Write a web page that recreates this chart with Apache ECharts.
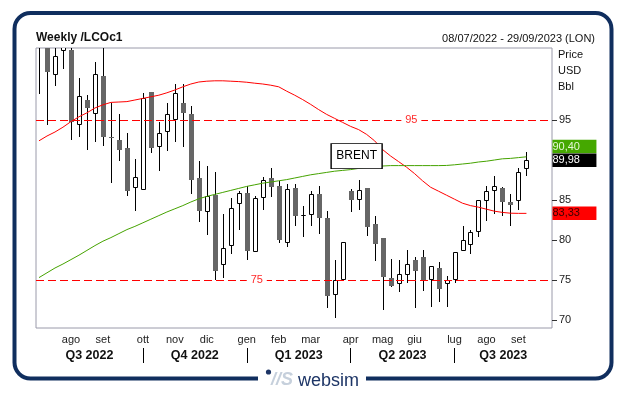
<!DOCTYPE html>
<html>
<head>
<meta charset="utf-8">
<script src="https://cdn.jsdelivr.net/npm/echarts@6/dist/echarts.min.js"></script>
<style>
html,body{margin:0;padding:0;background:#fff;}
#chart{width:626px;height:393px;}
</style>
</head>
<body>
<div id="chart"></div>
<script>
// ---- DATA (weekly Brent, LCOc1) ----
const weeks = [
 '2022-07-08','2022-07-15','2022-07-22','2022-07-29','2022-08-05','2022-08-12','2022-08-19','2022-08-26',
 '2022-09-02','2022-09-09','2022-09-16','2022-09-23','2022-09-30','2022-10-07','2022-10-14','2022-10-21',
 '2022-10-28','2022-11-04','2022-11-11','2022-11-18','2022-11-25','2022-12-02','2022-12-09','2022-12-16',
 '2022-12-23','2022-12-30','2023-01-06','2023-01-13','2023-01-20','2023-01-27','2023-02-03','2023-02-10',
 '2023-02-17','2023-02-24','2023-03-03','2023-03-10','2023-03-17','2023-03-24','2023-03-31','2023-04-07',
 '2023-04-14','2023-04-21','2023-04-28','2023-05-05','2023-05-12','2023-05-19','2023-05-26','2023-06-02',
 '2023-06-09','2023-06-16','2023-06-23','2023-06-30','2023-07-07','2023-07-14','2023-07-21','2023-07-28',
 '2023-08-04','2023-08-11','2023-08-18','2023-08-25','2023-09-01','2023-09-08'
];
const opens  = [111.0,107.0,100.6,103.6,103.7,94.4,97.55,95.7,100.55,92.9,92.45,91.45,86.5,86.3,98.5,91.65,
                93.5,95.05,97.15,95.8,87.7,83.5,85.6,76.85,79.25,84.5,85.9,78.5,85.3,87.7,86.8,79.65,
                86.5,83.05,83.1,85.8,82.7,73.1,75.0,86.1,85.0,86.45,81.95,80.2,75.25,74.45,75.65,77.45,
                77.85,74.95,76.5,74.5,75.05,78.6,79.35,81.0,84.85,86.1,86.5,84.8,84.9,88.9];
const closes = [107.0,101.0,103.0,110.0,94.8,98.0,96.5,100.8,92.85,92.7,91.25,86.1,87.9,97.8,91.5,93.4,
                95.7,98.4,95.9,87.5,83.6,85.5,76.1,79.0,83.95,85.9,78.6,85.3,87.55,86.65,80.0,86.4,
                83.0,83.15,85.8,82.75,73.0,75.05,79.75,85.05,86.3,81.6,79.45,75.35,74.25,75.7,77.0,76.1,
                74.95,76.75,73.9,74.95,78.5,79.95,81.0,85.0,86.15,86.8,84.75,84.35,88.5,89.98];
const lows   = [98.3,94.35,99.2,101.35,92.55,92.9,91.3,92.2,91.7,87.15,89.85,85.5,83.6,86.3,90.9,88.6,
                91.1,92.25,91.6,85.75,82.25,80.6,75.05,75.2,78.25,81.2,77.55,78.5,83.8,85.35,79.65,79.15,
                81.75,80.35,81.75,80.75,71.5,70.25,74.85,83.5,83.75,80.5,77.35,71.3,74.1,73.5,74.65,71.5,
                73.6,71.65,72.25,71.65,74.65,78.6,78.2,80.4,82.35,83.2,83.0,81.8,83.75,88.0];
const highs  = [112.0,108.0,105.0,110.5,104.6,100.2,98.1,102.3,105.5,97.15,95.7,93.4,90.1,98.4,98.5,94.7,
                97.15,99.45,99.45,96.8,89.85,89.3,88.5,83.2,85.25,86.1,86.8,85.5,87.85,89.0,87.35,86.95,
                86.95,84.3,86.1,86.75,83.6,77.55,79.8,86.4,87.45,86.5,83.05,80.3,77.65,77.55,78.7,77.85,
                78.8,76.8,77.25,75.55,78.55,81.8,81.3,85.05,86.75,88.05,86.65,85.8,88.95,91.0];
const maRed   = [92.4,93.0,93.5,94.1,94.8,95.4,95.9,96.5,96.9,97.2,97.25,97.3,97.5,97.7,97.9,98.1,
                 98.4,98.75,99.15,99.5,99.75,99.85,99.9,99.9,99.85,99.8,99.72,99.6,99.5,99.35,99.15,98.6,
                 98.1,97.55,96.95,96.3,95.7,95.2,94.7,94.2,93.8,93.2,92.4,91.3,90.5,89.8,89.1,88.3,
                 87.4,86.6,86.1,85.6,85.1,84.6,84.3,84.1,83.85,83.6,83.45,83.35,83.33,83.33];
const maGreen = [75.3,75.9,76.5,77.0,77.55,78.1,78.7,79.3,79.85,80.3,80.8,81.3,81.7,82.15,82.6,83.05,
                 83.5,83.9,84.3,84.75,85.15,85.45,85.7,85.95,86.2,86.45,86.7,86.9,87.1,87.25,87.4,87.55,
                 87.75,87.95,88.15,88.3,88.45,88.6,88.7,88.8,88.95,89.05,89.15,89.25,89.3,89.3,89.3,89.3,
                 89.3,89.3,89.3,89.32,89.4,89.5,89.6,89.75,89.85,90.0,90.15,90.2,90.3,90.4];
const monthNames = ['gen','feb','mar','apr','mag','giu','lug','ago','set','ott','nov','dic'];
const quarterNames = ['Q3 2022','Q4 2022','Q1 2023','Q2 2023','Q3 2023'];
const yTickValues = [70,75,80,85,95];
const refLevels = [95,75];
const refLabelAt = [46.6,27.25];
const instrument = 'BRENT';
const brentLabelAt = [39.75, 90.48];

// ---- derived helpers ----
const X_MIN = -0.375, X_MAX = 64.2;
const FONT = '"Liberation Sans", Arial, sans-serif';
const monthIdx = [], monthLbl = {};
for (let i = 1; i < weeks.length; i++) {
  const m = +weeks[i].slice(5,7), pm = +weeks[i-1].slice(5,7);
  if (m !== pm) { monthIdx.push(i); monthLbl[i] = monthNames[m-1]; }
}
const qSep = monthIdx.filter(i => [1,4,7,10].includes(+weeks[i].slice(5,7)));
const qBounds = [X_MIN].concat(qSep, [X_MAX]);
const qMid = [], qLbl = {};
for (let k = 0; k < qBounds.length - 1; k++) {
  const mid = +((qBounds[k] + qBounds[k+1]) / 2).toFixed(3);
  qMid.push(mid); qLbl[mid.toFixed(3)] = quarterNames[k];
}
const candleData = weeks.map((w, i) => [i, opens[i], closes[i], lows[i], highs[i]]);
const last = weeks.length - 1;
const fmt = v => v.toFixed(2).replace('.', ',');

function renderCandle(params, api) {
  const i = api.value(0), o = api.value(1), c = api.value(2), l = api.value(3), h = api.value(4);
  const pO = api.coord([i, o]), pC = api.coord([i, c]), pL = api.coord([i, l]), pH = api.coord([i, h]);
  const cx = Math.round(pO[0]) + 0.5;
  const yTop = Math.round(Math.min(pO[1], pC[1]));
  const yBot = Math.round(Math.max(pO[1], pC[1]));
  const children = [{
    type: 'line',
    shape: { x1: cx, y1: Math.round(pH[1]), x2: cx, y2: Math.round(pL[1]) },
    style: { stroke: '#000', lineWidth: 1 }
  }];
  if (c >= o) {
    children.push({ type: 'rect',
      shape: { x: cx - 2, y: yTop + 0.5, width: 4, height: Math.max(yBot - yTop - 1, 0) },
      style: { fill: '#fff', stroke: '#000', lineWidth: 1 } });
  } else {
    children.push({ type: 'rect',
      shape: { x: cx - 2.5, y: yTop, width: 5, height: Math.max(yBot - yTop, 1) },
      style: { fill: '#666666' } });
  }
  return { type: 'group', children };
}

function priceBox(value, bg, fg, dy) {
  return {
    coord: [last, value], value: value,
    symbol: 'rect', symbolSize: [44, 13.5], symbolOffset: [48, dy],
    itemStyle: { color: bg },
    label: { show: true, position: 'insideLeft', distance: 0, formatter: fmt(value),
             color: fg, fontSize: 11, fontFamily: FONT }
  };
}

const chart = echarts.init(document.getElementById('chart'), null, { renderer: 'canvas' });
chart.setOption({
  animation: false,
  backgroundColor: '#fff',
  title: [
    { text: 'Weekly /LCOc1', left: 36, top: 32, padding: 0,
      textStyle: { fontSize: 12, fontWeight: 'bold', color: '#111', fontFamily: FONT } },
    { text: '08/07/2022 - 29/09/2023 (LON)', right: 31, top: 33, padding: 0,
      textStyle: { fontSize: 11, fontWeight: 'normal', color: '#111', fontFamily: FONT } }
  ],
  grid: { left: 36, right: 74, top: 48, bottom: 65, show: true, borderColor: '#9a9aaa', borderWidth: 1, backgroundColor: '#fff' },
  xAxis: [
    { type: 'value', min: X_MIN, max: X_MAX, position: 'bottom',
      axisLine: { show: false, onZero: false }, axisTick: { show: false }, splitLine: { show: false },
      axisLabel: { customValues: monthIdx, formatter: v => monthLbl[Math.round(v)] || '',
                   fontSize: 11, color: '#222', margin: 6, fontFamily: FONT } },
    { type: 'value', min: X_MIN, max: X_MAX, position: 'bottom', offset: 20,
      axisLine: { show: false, onZero: false }, splitLine: { show: false },
      axisTick: { show: true, customValues: qSep, length: 15, lineStyle: { color: '#000', width: 1 } },
      axisLabel: { customValues: qMid, formatter: v => qLbl[(+v).toFixed(3)] || '',
                   fontSize: 12.5, fontWeight: 'bold', color: '#111', margin: 1, fontFamily: FONT } }
  ],
  yAxis: {
    type: 'value', min: 69, max: 104, position: 'right',
    axisLine: { show: false, onZero: false }, splitLine: { show: false },
    axisTick: { show: true, customValues: yTickValues, length: 5, lineStyle: { color: '#333' } },
    axisLabel: { customValues: yTickValues, fontSize: 11, color: '#1a1a1a', margin: 7, fontFamily: FONT },
    name: 'Price\nUSD\nBbl', nameLocation: 'end', nameGap: 1,
    nameTextStyle: { align: 'left', verticalAlign: 'top', padding: [0,0,0,6], lineHeight: 16,
                     fontSize: 11, color: '#111', fontFamily: FONT }
  },
  series: [
    { type: 'custom', name: 'LCOc1', xAxisIndex: 0, clip: true, renderItem: renderCandle,
      encode: { x: 0, y: [1,2,3,4] }, data: candleData, z: 2 },
    { type: 'line', name: 'MA red', xAxisIndex: 0, showSymbol: false, symbol: 'none',
      data: maRed.map((v, i) => [i, v]), lineStyle: { color: '#ff0000', width: 1 }, z: 3,
      markLine: { silent: true, symbol: ['none','none'], label: { show: false },
                  lineStyle: { color: '#ff0000', type: [8,4], width: 1 },
                  data: refLevels.map(v => ({ yAxis: v })) },
      markPoint: { silent: true,
        data: [priceBox(maRed[last], '#ff0000', '#3a0000', 0)].concat(
          refLevels.map((v, k) => ({ coord: [refLabelAt[k], v], symbol: 'rect', symbolSize: [20, 6],
            itemStyle: { color: '#fff' },
            label: { show: true, position: 'inside', formatter: String(v), color: '#ff2a2a', fontSize: 11, fontFamily: FONT } }))) }
    },
    { type: 'line', name: 'MA green', xAxisIndex: 0, showSymbol: false, symbol: 'none',
      data: maGreen.map((v, i) => [i, v]), lineStyle: { color: '#45a300', width: 1 }, z: 3,
      markPoint: { silent: true,
        data: [
          priceBox(maGreen[last], '#45a800', '#e4f7d6', -10.2),
          priceBox(closes[last], '#000000', '#ffffff', 0),
          { coord: brentLabelAt, symbol: 'rect', symbolSize: [51, 25],
            itemStyle: { color: '#fff', borderColor: '#000', borderWidth: 1 },
            label: { show: true, position: 'inside', formatter: instrument, color: '#000', fontSize: 12, fontFamily: FONT } }
        ] }
    }
  ],
  graphic: [
    { type: 'rect', silent: true, z: 100, shape: { x: 14.5, y: 13, width: 597, height: 365.5, r: 16 },
      style: { fill: 'none', stroke: '#102e5e', lineWidth: 4 } },
    { type: 'rect', silent: true, z: 101, shape: { x: 258, y: 370, width: 108, height: 16 }, style: { fill: '#fff' } },
    { type: 'circle', silent: true, z: 102, shape: { cx: 268.5, cy: 372, r: 2.6 }, style: { fill: '#1d3566' } },
    { type: 'text', silent: true, z: 102, x: 271, y: 389,
      style: { text: '//S', fill: '#c6d0dc', font: 'italic bold 18px "Liberation Sans"', verticalAlign: 'bottom' } },
    { type: 'text', silent: true, z: 102, x: 298, y: 390,
      style: { text: 'websim', fill: '#1d3566', font: '18px "Liberation Sans"', verticalAlign: 'bottom' } }
  ]
});
</script>
</body>
</html>
